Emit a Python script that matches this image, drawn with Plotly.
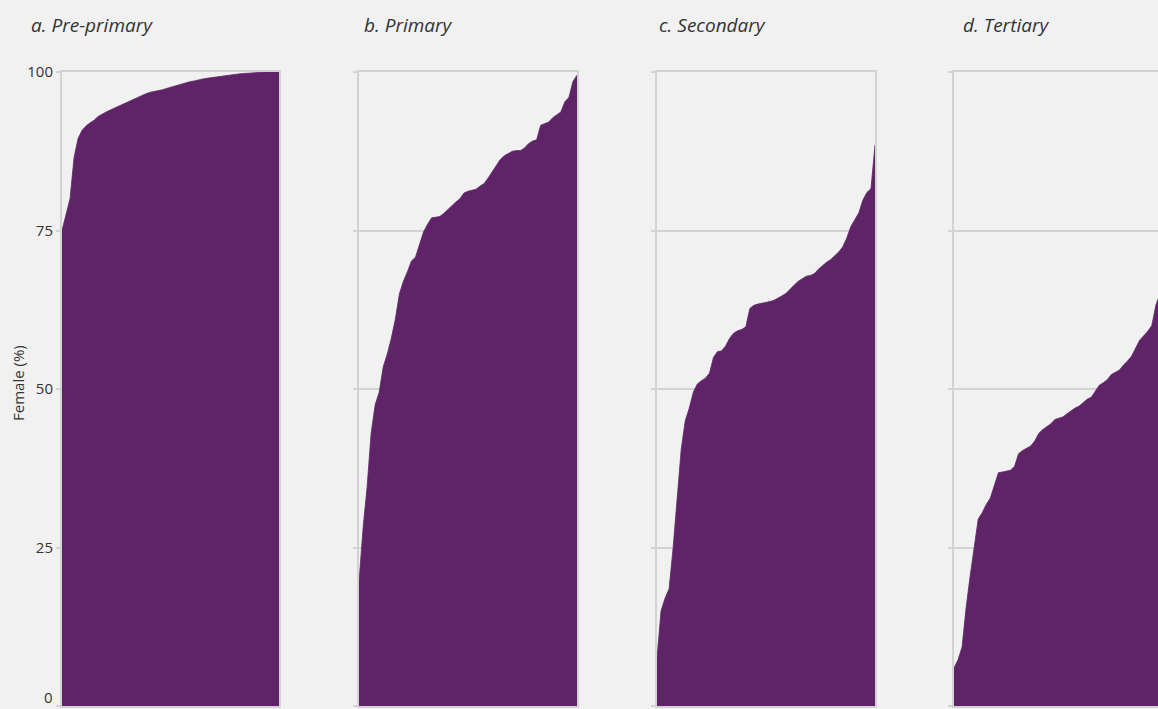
import plotly.graph_objects as go

# ---- data (share of female teachers, countries sorted ascending) ----
panel_titles = ["a. Pre-primary", "b. Primary", "c. Secondary", "d. Tertiary"]
y_ticks = [0, 25, 50, 75, 100]
y_title = "Female (%)"

pre_primary = [75, 77.5, 80, 86.5, 89.5, 90.8, 91.5, 92, 92.4, 93, 93.4, 93.7, 94, 94.3,
               94.6, 94.9, 95.1, 95.4, 95.8, 96.0, 96.3, 96.6, 96.8, 96.9, 97.0, 97.2,
               97.4, 97.6, 97.8, 98.0, 98.2, 98.4, 98.5, 98.6, 98.8, 98.9, 99.0, 99.1,
               99.2, 99.3, 99.4, 99.5, 99.55, 99.6, 99.7, 99.75, 99.8, 99.9, 99.95,
               100, 100, 100, 100, 100, 100]
primary = [19.5, 28, 34.5, 43, 47.5, 49.5, 53.5, 55.5, 58, 61, 65, 67, 68.5, 70.2, 70.8,
           73, 74.8, 76, 77, 77.1, 77.2, 77.7, 78.3, 79, 79.5, 80, 80.9, 81.2, 81.3, 81.5,
           82, 82.4, 83.3, 84.2, 85.3, 86.2, 86.8, 87.2, 87.5, 87.6, 87.6, 88, 88.7, 89.1,
           89.3, 91.6, 91.8, 92.1, 92.8, 93.3, 93.7, 95.3, 96, 98.5, 99.5]
secondary = [7.5, 15, 17, 18.5, 25, 32.8, 40.5, 45, 47, 49.5, 50.8, 51.3, 51.7, 52.5, 55,
             55.9, 56, 56.8, 58, 58.8, 59.2, 59.4, 59.8, 62.7, 63.2, 63.4, 63.5, 63.6, 63.8,
             64, 64.3, 64.7, 65.1, 65.8, 66.4, 67, 67.4, 67.8, 67.9, 68.2, 68.9, 69.5, 70,
             70.4, 71, 71.6, 72.4, 73.8, 75.6, 76.8, 77.8, 79.8, 81, 81.6, 88.5]
tertiary = [6, 7.3, 9.3, 15.5, 20.5, 25, 29.5, 30.5, 31.8, 32.8, 34.7, 36.8, 36.9, 37.0,
            37.2, 37.8, 39.8, 40.3, 40.6, 41.0, 41.8, 43.0, 43.6, 44.0, 44.5, 45.2, 45.4,
            45.6, 46.1, 46.6, 47.0, 47.3, 47.9, 48.4, 48.7, 49.6, 50.6, 51.0, 51.5, 52.3,
            52.6, 53.0, 53.8, 54.4, 55.2, 56.5, 57.7, 58.4, 59.1, 60.0, 63.2, 65]
series = [pre_primary, primary, secondary, tertiary]

# ---- style ----
W, H = 1158, 709
BG = "#f1f1f1"
FILL = "#5f2467"
GRID = "#d3d3d3"
TEXT = "#333333"

# panel pixel extents (left, right); last panel runs past the right edge
panels_px = [(62, 279), (359, 577), (657, 875), (954, 1172)]
y_top_px, y_bot_px = 72, 706
n_full = 54  # index span of a full panel

fig = go.Figure()
for k, (vals, (x0, x1)) in enumerate(zip(series, panels_px)):
    idx = "" if k == 0 else str(k + 1)
    fig.add_trace(go.Scatter(
        x=list(range(len(vals))), y=vals, mode="lines", fill="tozeroy",
        fillcolor=FILL, line=dict(color=FILL, width=0.8, shape="linear"),
        hoverinfo="skip", showlegend=False, xaxis="x" + idx, yaxis="y" + idx))

    vis_right = min(x1, W)
    xr = n_full * (vis_right - x0) / (x1 - x0)
    dom = [x0 / W, vis_right / W]
    fig.layout["xaxis" + idx] = dict(
        domain=dom, range=[0, xr], showgrid=False, zeroline=False,
        showticklabels=False, ticks="", showline=True, linecolor=GRID, linewidth=2,
        mirror=True, anchor="y" + idx, automargin=False, fixedrange=True)
    fig.layout["yaxis" + idx] = dict(
        domain=[(H - y_bot_px) / H, (H - y_top_px) / H], range=[0, 100],
        tickvals=y_ticks, ticktext=[str(t) for t in y_ticks],
        showticklabels=(k == 0), ticks="outside", ticklen=4, tickcolor=GRID,
        tickwidth=1.5, showgrid=True, gridcolor=GRID, gridwidth=2, zeroline=False,
        showline=True, linecolor=GRID, linewidth=2, mirror=(k < 3),
        tickfont=dict(family="Open Sans", size=15, color=TEXT),
        anchor="x" + idx, automargin=False, fixedrange=True)

# bottom "0" label (sits on the figure edge, so drawn as an annotation kept inside)
fig.add_annotation(text=str(y_ticks[0]), x=55 / W, y=0, xref="paper", yref="paper",
                   xanchor="right", yanchor="bottom", showarrow=False,
                   font=dict(family="Open Sans", size=15, color=TEXT))

# panel titles
title_x = [29, 362, 657, 961]
for t, xp in zip(panel_titles, title_x):
    fig.add_annotation(text="<i>" + t + "</i>", x=xp / W, y=(H - 25) / H,
                       xref="paper", yref="paper", xanchor="left", yanchor="middle",
                       showarrow=False, font=dict(family="Open Sans", size=19, color=TEXT))

# y-axis title
fig.add_annotation(text=y_title, x=18 / W, y=(H - 383) / H, xref="paper", yref="paper",
                   textangle=-90, showarrow=False, xanchor="center", yanchor="middle",
                   font=dict(family="Open Sans", size=15, color=TEXT))

fig.update_layout(width=W, height=H, margin=dict(l=0, r=0, t=0, b=0),
                  paper_bgcolor=BG, plot_bgcolor=BG, template="none")

fig.write_html("out.html", config={"displayModeBar": False},
               post_script="document.body.style.margin='0';document.body.style.background='#f1f1f1';")
